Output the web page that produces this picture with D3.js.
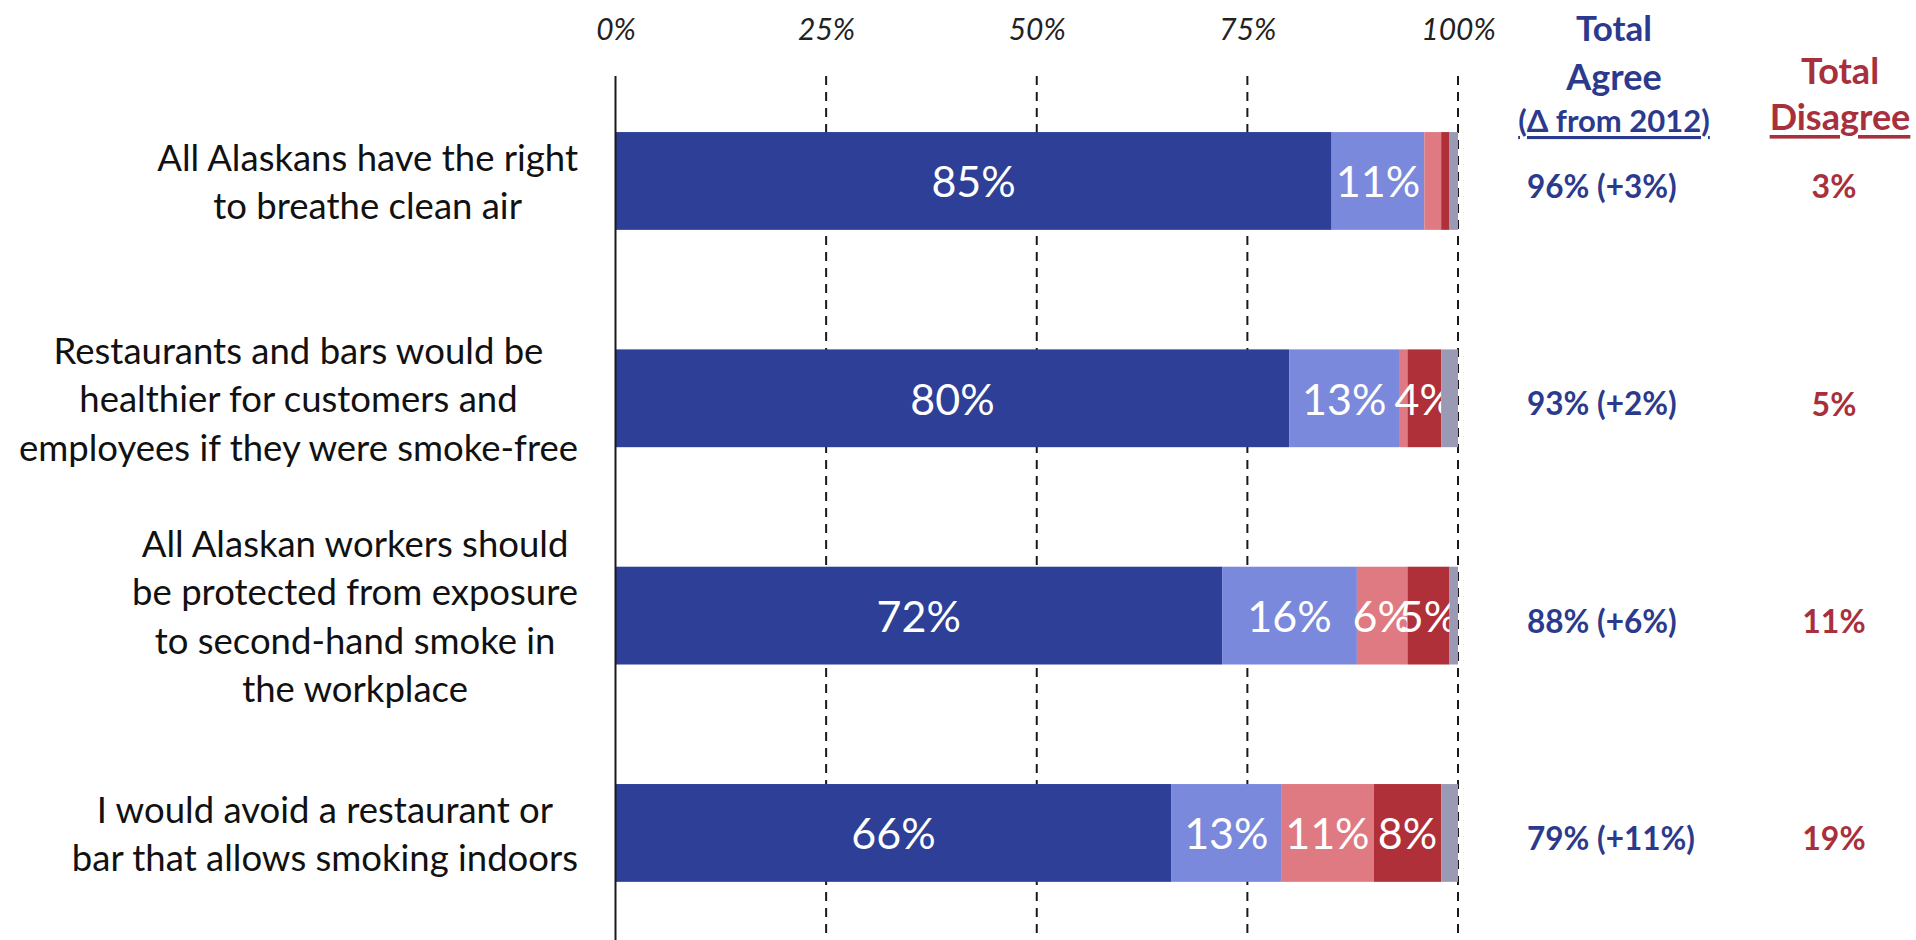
<!DOCTYPE html>
<html>
<head>
<meta charset="utf-8">
<script src="https://cdn.jsdelivr.net/npm/d3@7"></script>
<style>
  html, body { margin: 0; padding: 0; background: #ffffff; }
  svg { display: block; }
</style>
</head>
<body>
<svg id="chart" width="1916" height="940"></svg>
<script>
// ---------------- DATA ----------------
const categories = [
  ["All Alaskans have the right", "to breathe clean air"],
  ["Restaurants and bars would be", "healthier for customers and", "employees if they were smoke-free"],
  ["All Alaskan workers should", "be protected from exposure", "to second-hand smoke in", "the workplace"],
  ["I would avoid a restaurant or", "bar that allows smoking indoors"]
];
const seriesNames = ["Strongly agree", "Somewhat agree", "Somewhat disagree", "Strongly disagree", "Don't know"];
const stronglyAgree    = [85, 80, 72, 66];
const somewhatAgree    = [11, 13, 16, 13];
const somewhatDisagree = [2, 1, 6, 11];
const stronglyDisagree = [1, 4, 5, 8];
const dontKnow         = [1, 2, 1, 2];
const totalAgree       = ["96% (+3%)", "93% (+2%)", "88% (+6%)", "79% (+11%)"];
const totalDisagree    = ["3%", "5%", "11%", "19%"];
const tickValues = [0, 25, 50, 75, 100];
const tickLabels = ["0%", "25%", "50%", "75%", "100%"];

// ---------------- STYLE ----------------
const colors = ["#2d3f96", "#7b89dc", "#df7a82", "#b0303a", "#9a9ab4"];
const blueText = "#2b3a8c";
const redText = "#a8303c";
const font = "Lato, 'Open Sans', sans-serif";

const svg = d3.select("#chart");

const x = d3.scaleLinear().domain([0, 100]).range([615.5, 1458]);
const rowIds = categories.map((d, i) => i);
const y = d3.scaleBand().domain(rowIds).range([72.3, 941.6]).paddingInner(0.55).paddingOuter(0.275);

// grid lines
const gridTop = 76;
svg.append("g").selectAll("line")
  .data(tickValues.filter(v => v > 0))
  .join("line")
  .attr("x1", d => x(d)).attr("x2", d => x(d))
  .attr("y1", gridTop).attr("y2", 940)
  .attr("stroke", "#1a1a1a").attr("stroke-width", 2)
  .attr("stroke-dasharray", "9,7");

// tick labels (top axis)
const axis = d3.axisTop(x).tickValues(tickValues).tickFormat((d, i) => tickLabels[i]).tickSize(0).tickPadding(0);
const axG = svg.append("g").attr("transform", "translate(0,40)").call(axis);
axG.select(".domain").remove();
axG.selectAll("text")
  .attr("font-family", font).attr("font-style", "italic")
  .attr("font-size", 30).attr("fill", "#222").attr("dy", 0);

// stacked bars
const rows = rowIds.map(i => ({
  i,
  vals: [stronglyAgree[i], somewhatAgree[i], somewhatDisagree[i], stronglyDisagree[i], dontKnow[i]]
}));
const stackKeys = [0, 1, 2, 3, 4];
const stackData = rows.map(r => {
  const o = { i: r.i };
  stackKeys.forEach(k => o[k] = r.vals[k]);
  return o;
});
const stacked = d3.stack().keys(stackKeys)(stackData);

const layers = svg.append("g").selectAll("g")
  .data(stacked).join("g")
  .attr("fill", (d, k) => colors[k]);

layers.selectAll("rect")
  .data(d => d.map(s => ({ s, key: d.key })))
  .join("rect")
  .attr("x", d => x(d.s[0]))
  .attr("width", d => x(d.s[1]) - x(d.s[0]))
  .attr("y", d => y(d.s.data.i))
  .attr("height", y.bandwidth());

layers.selectAll("text")
  .data(d => d.map(s => ({ s, key: d.key })).filter(d => d.key < 4 && (d.s[1] - d.s[0]) >= 4))
  .join("text")
  .attr("x", d => (x(d.s[0]) + x(d.s[1])) / 2)
  .attr("y", d => y(d.s.data.i) + y.bandwidth() / 2)
  .attr("text-anchor", "middle")
  .attr("dominant-baseline", "central")
  .attr("font-family", font)
  .attr("font-size", 43)
  .attr("fill", "#ffffff")
  .text(d => (d.s[1] - d.s[0]) + "%");

// zero axis line
svg.append("line")
  .attr("x1", x(0)).attr("x2", x(0))
  .attr("y1", gridTop).attr("y2", 940)
  .attr("stroke", "#1a1a1a").attr("stroke-width", 2);

// category labels: block right edge at 577, lines centred within block
const lineH = 48.5;
const labelRight = 578;
const catG = svg.append("g");
categories.forEach((lines, i) => {
  const cy = y(i) + y.bandwidth() / 2;
  const g = catG.append("g");
  const texts = g.selectAll("text").data(lines).join("text")
    .attr("font-family", font).attr("font-size", 36.5).attr("fill", "#111")
    .attr("text-anchor", "middle").attr("dominant-baseline", "central")
    .attr("y", (d, j) => cy + (j - (lines.length - 1) / 2) * lineH)
    .text(d => d);
  let maxW = 0;
  texts.each(function () { maxW = Math.max(maxW, this.getComputedTextLength()); });
  texts.attr("x", labelRight - maxW / 2);
});

// right-hand columns
const agreeX = 1614;
const disX = 1840;
const hdr = svg.append("g").attr("font-family", font).attr("font-weight", 700).attr("text-anchor", "middle").attr("dominant-baseline", "central");
hdr.append("text").attr("x", agreeX).attr("y", 27).attr("font-size", 35).attr("fill", blueText).text("Total");
hdr.append("text").attr("x", agreeX).attr("y", 76).attr("font-size", 36).attr("fill", blueText).text("Agree");
hdr.append("text").attr("x", agreeX).attr("y", 120).attr("font-size", 31).attr("fill", blueText)
  .attr("text-decoration", "underline").text("(Δ from 2012)");
hdr.append("text").attr("x", disX).attr("y", 70).attr("font-size", 36).attr("fill", redText).text("Total");
hdr.append("text").attr("x", disX).attr("y", 116).attr("font-size", 36).attr("fill", redText)
  .attr("text-decoration", "underline").text("Disagree");

svg.append("g").selectAll("text").data(totalAgree).join("text")
  .attr("x", 1527).attr("y", (d, i) => y(i) + y.bandwidth() / 2 + 5)
  .attr("font-family", font).attr("font-weight", 700).attr("font-size", 31.5)
  .attr("dominant-baseline", "central").attr("fill", blueText).text(d => d);

svg.append("g").selectAll("text").data(totalDisagree).join("text")
  .attr("x", 1834).attr("y", (d, i) => y(i) + y.bandwidth() / 2 + 5)
  .attr("font-family", font).attr("font-weight", 700).attr("font-size", 32)
  .attr("text-anchor", "middle")
  .attr("dominant-baseline", "central").attr("fill", redText).text(d => d);
</script>
</body>
</html>
